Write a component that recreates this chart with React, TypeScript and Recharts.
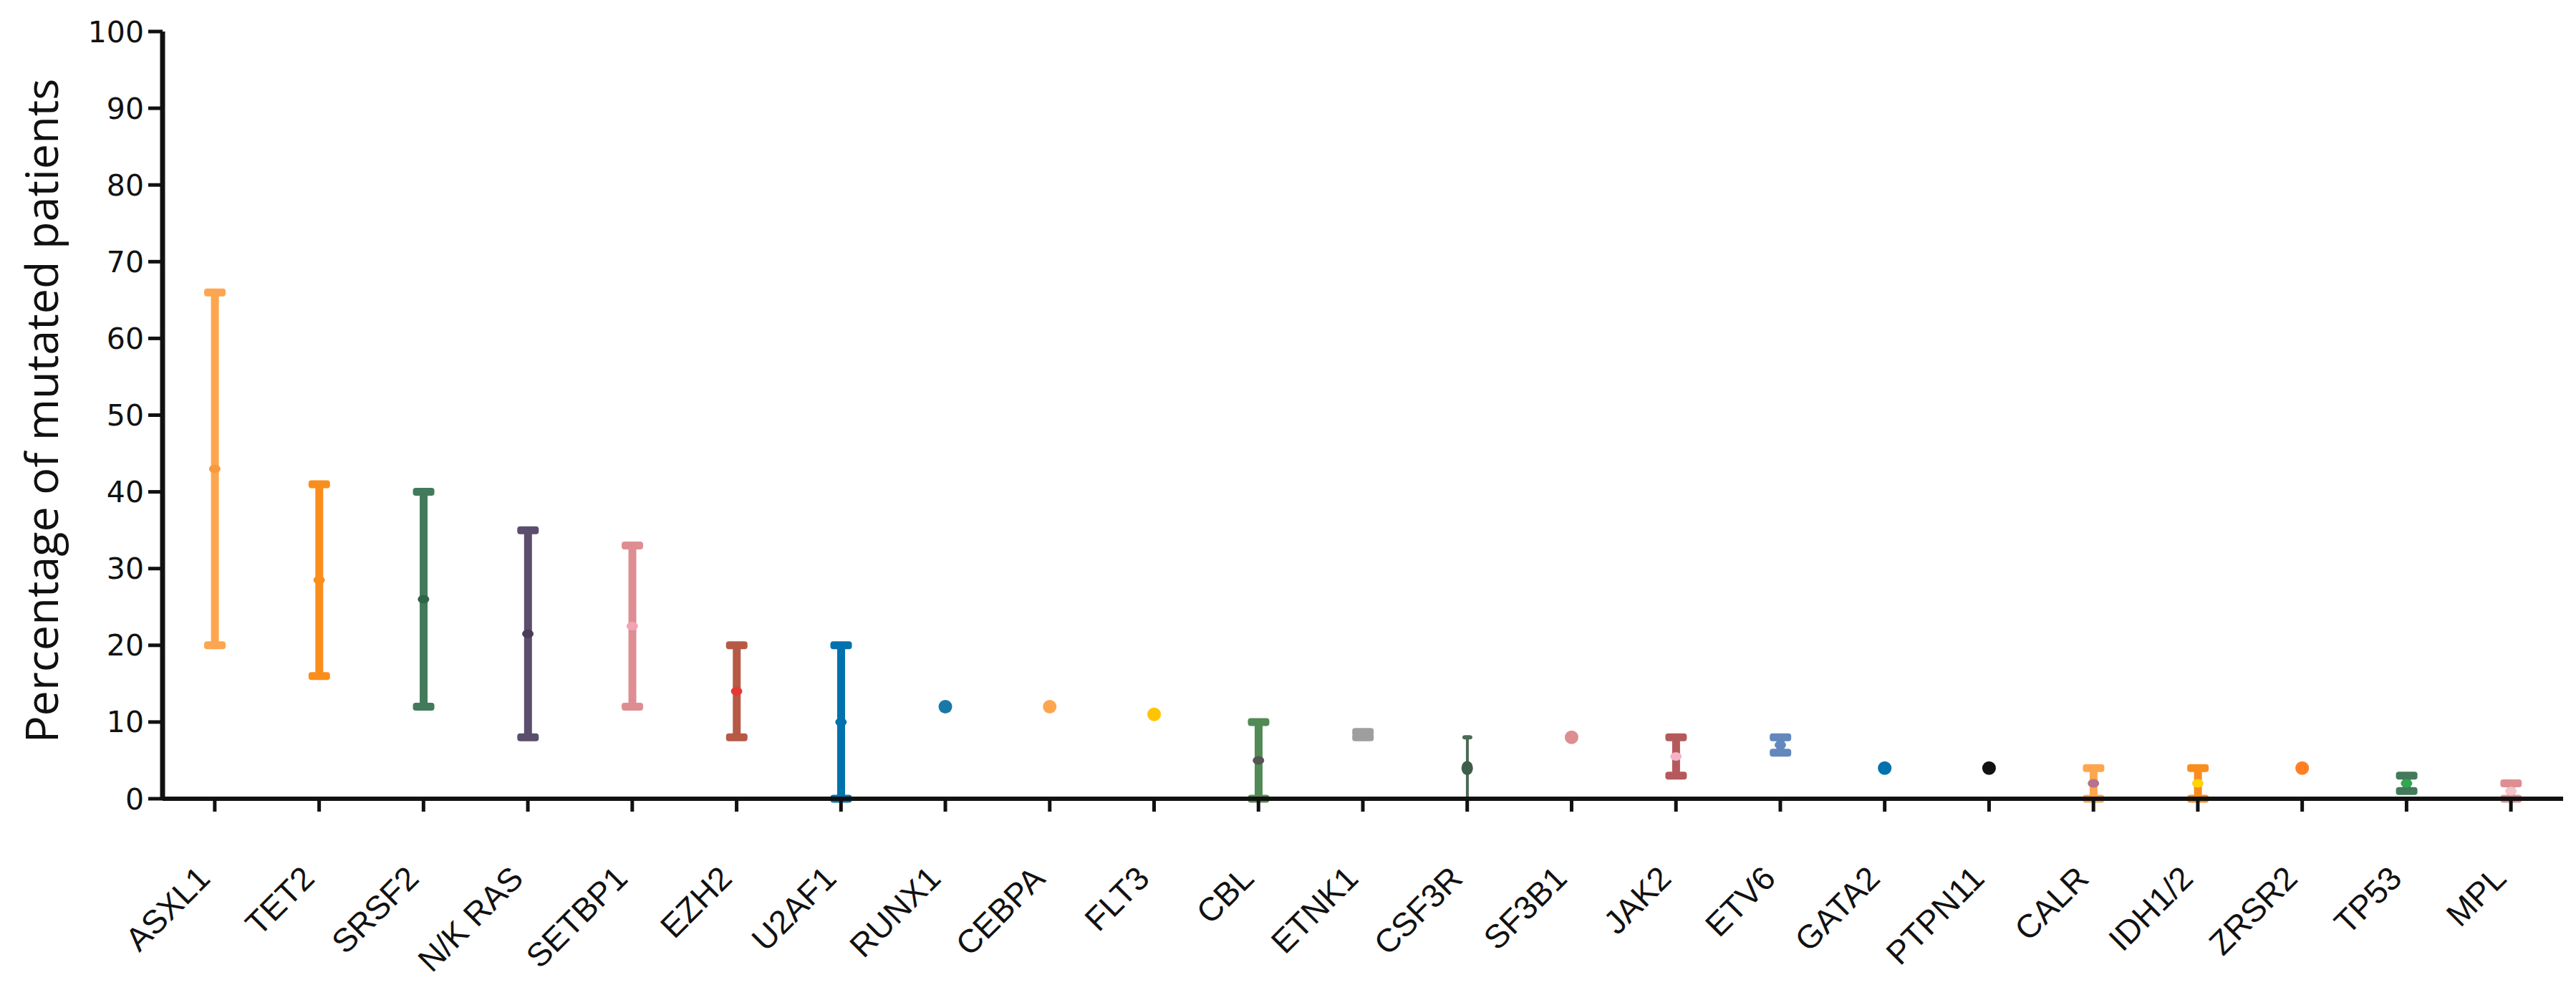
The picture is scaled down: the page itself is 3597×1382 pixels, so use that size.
import { ComposedChart, Bar, Line, XAxis, YAxis } from "recharts";

// genes on the x axis
const categories = [
  "ASXL1", "TET2", "SRSF2", "N/K RAS", "SETBP1", "EZH2", "U2AF1", "RUNX1",
  "CEBPA", "FLT3", "CBL", "ETNK1", "CSF3R", "SF3B1", "JAK2", "ETV6",
  "GATA2", "PTPN11", "CALR", "IDH1/2", "ZRSR2", "TP53", "MPL",
];

// range of reported frequencies (%), null = single value only
const lows = [20, 16, 12, 8, 12, 8, 0, null, null, null, 0, 8, 0, null, 3, 6, null, null, 0, 0, null, 1, 0];
const highs = [66, 41, 40, 35, 33, 20, 20, null, null, null, 10, 8.7, 8, null, 8, 8, null, null, 4, 4, null, 3, 2];
const mids = [43, 28.5, 26, 21.5, 22.5, 14, 10, 12, 12, 11, 5, 8.3, 4, 8, 5.5, 7, 4, 4, 2, 2, 4, 2, 1];

const yTicks = [0, 10, 20, 30, 40, 50, 60, 70, 80, 90, 100];

// styling
const rangeColors = [
  "#FDA64F", "#F98E1D", "#437A5B", "#5B4D6C", "#DE8E93", "#B65A45", "#0072AE", "#1A78A8",
  "#FDA64F", "#FFC400", "#528A56", "#9E9E9E", "#4B6B55", "#DE8E93", "#B55A5C", "#6388BE",
  "#0072AE", "#111111", "#FDA64F", "#F98E1D", "#FF7F22", "#437A5B", "#DE8E93",
];
const midColors = [
  "#F59A3E", "#F98E1D", "#2F6649", "#4A3D5C", "#F2A3B5", "#E53935", "#0072AE", "#1A78A8",
  "#FDA64F", "#FFC400", "#555555", "#9E9E9E", "#3F5E49", "#DE8E93", "#F5B3C8", "#6388BE",
  "#0072AE", "#111111", "#B5738C", "#FFD400", "#FF7F22", "#2FA84F", "#F6C3CC",
];
const thin = ["CSF3R"];

const data = categories.map((name, i) => ({
  name,
  range: lows[i] === null ? null : [lows[i], highs[i]],
  mid: mids[i],
  color: rangeColors[i],
  midColor: midColors[i],
}));

const RangeShape = (props: any) => {
  const { x, y, width, height, payload } = props;
  if (!payload || payload.range === null) return null;
  const cx = x + width / 2;
  const top = Math.min(y, y + height);
  const bottom = Math.max(y, y + height);
  const isThin = thin.includes(payload.name);
  const stem = isThin ? 4 : 11;
  const capW = isThin ? 14 : 30;
  const capH = isThin ? 6 : 11;
  return (
    <g fill={payload.color}>
      <rect x={cx - stem / 2} y={top} width={stem} height={bottom - top} />
      <rect x={cx - capW / 2} y={top - capH / 2} width={capW} height={capH} rx={4} />
      <rect x={cx - capW / 2} y={bottom - capH / 2} width={capW} height={capH} rx={4} />
    </g>
  );
};

const MidDot = (props: any) => {
  const { cx, cy, payload, index } = props;
  if (cx == null || cy == null) return <g key={index} />;
  const single = payload.range === null;
  const isThin = thin.includes(payload.name);
  const rx = single ? 9.5 : isThin ? 8 : 8;
  const ry = single ? 9.5 : isThin ? 10 : 6;
  return <ellipse key={index} cx={cx} cy={cy} rx={rx} ry={ry} fill={payload.midColor} />;
};

const GeneTick = (props: any) => {
  const { x, y, payload } = props;
  return (
    <text
      x={0}
      y={0}
      transform={`translate(${x - 4},${y + 96}) rotate(-45)`}
      textAnchor="end"
      fontFamily="'Liberation Sans', Arial, sans-serif"
      fontSize={46}
      fill="#111"
    >
      {payload.value}
    </text>
  );
};

const YTitle = (props: any) => {
  const vb = props.viewBox || { y: 44, height: 1071 };
  const cy = vb.y + vb.height / 2 - 6;
  return (
    <text
      x={0}
      y={0}
      transform={`translate(81,${cy}) rotate(-90)`}
      textAnchor="middle"
      fontFamily="'Open Sans', sans-serif"
      fontSize={63}
      fill="#111"
    >
      Percentage of mutated patients
    </text>
  );
};

export default function App() {
  return (
    <div style={{ position: "absolute", left: 0, top: 0, background: "#fff" }}>
      <ComposedChart
        width={3597}
        height={1382}
        data={data}
        margin={{ top: 44, right: 18, bottom: 0, left: 0 }}
      >
        <XAxis
          dataKey="name"
          type="category"
          interval={0}
          height={267}
          axisLine={{ stroke: "#111", strokeWidth: 6 }}
          tickLine={{ stroke: "#111", strokeWidth: 5 }}
          tickSize={18}
          tickMargin={0}
          tick={<GeneTick />}
        />
        <YAxis
          domain={[0, 100]}
          ticks={yTicks}
          interval={0}
          width={227}
          axisLine={{ stroke: "#111", strokeWidth: 7 }}
          tickLine={{ stroke: "#111", strokeWidth: 5 }}
          tickSize={20}
          tickMargin={6}
          tick={{ fontFamily: "'DejaVu Sans', sans-serif", fontSize: 41, fill: "#111" }}
          label={<YTitle />}
        />
        <Bar dataKey="range" shape={<RangeShape />} isAnimationActive={false} />
        <Line
          dataKey="mid"
          stroke="none"
          dot={<MidDot />}
          activeDot={false}
          isAnimationActive={false}
        />
      </ComposedChart>
    </div>
  );
}
